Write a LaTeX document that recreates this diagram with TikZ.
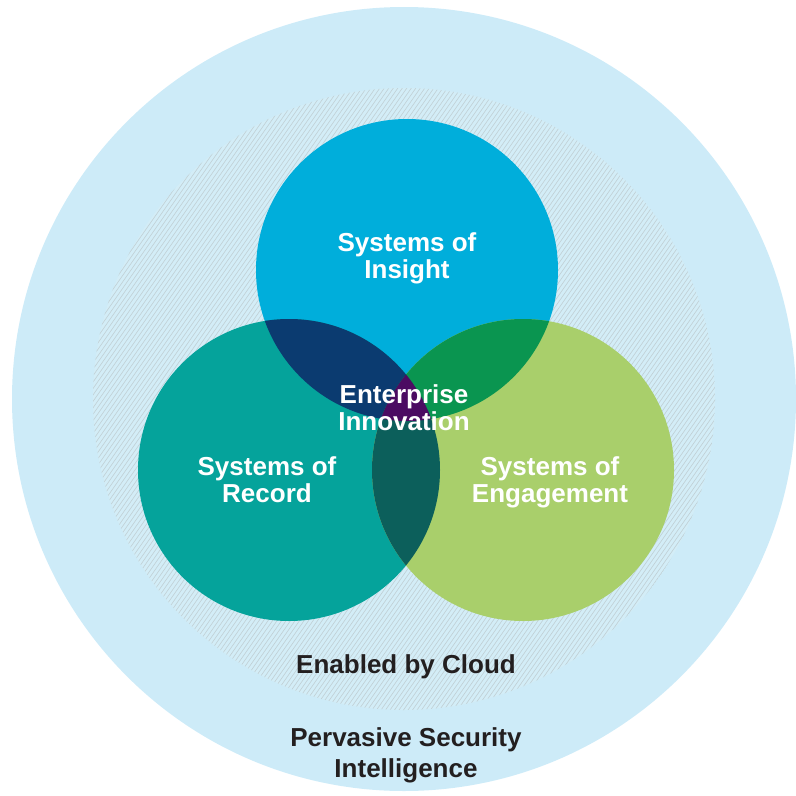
\documentclass[tikz,border=0pt]{standalone}
\usepackage{fontspec}
\setmainfont{Liberation Sans}
\usepackage{tikz}
\usetikzlibrary{calc}
\definecolor{halo}{HTML}{CDEBF8}
\definecolor{cloudbg}{HTML}{D3EDF7}
\definecolor{hatch}{HTML}{C0CFD4}
\definecolor{insight}{HTML}{00AEDB}
\definecolor{record}{HTML}{05A39B}
\definecolor{engage}{HTML}{A9CF6B}
\definecolor{insrec}{HTML}{0B3B70}
\definecolor{inseng}{HTML}{0A9550}
\definecolor{receng}{HTML}{0C5F5B}
\definecolor{allthree}{HTML}{4B0B62}
\definecolor{darktext}{HTML}{231F20}
\tikzstyle{lbl}=[align=center,text=white,inner sep=0pt,font=\fontsize{26bp}{27bp}\selectfont\bfseries]
\tikzstyle{dlbl}=[lbl,text=darktext]

\begin{document}
\begin{tikzpicture}[x=1bp,y=-1bp]
	\useasboundingbox (0,0) rectangle (796,796);
	\coordinate (mid) at (404,399);
	\coordinate (ins) at (407,270);
	\coordinate (rec) at (289,470);
	\coordinate (eng) at (523,470);
	% security halo and cloud ring
	\fill[halo] (mid) circle[radius=392];
	\fill[cloudbg] (mid) circle[radius=311];
	\begin{scope}
		\clip (mid) circle[radius=311];
		\foreach \k in {-420,-415.5,...,660}
			\draw[hatch,line width=0.6bp] (\k,800) -- ++(560,-800);
	\end{scope}
	% the three systems
	\fill[insight] (ins) circle[radius=151];
	\fill[record] (rec) circle[radius=151];
	\fill[engage] (eng) circle[radius=151];
	\begin{scope}
		\clip (ins) circle[radius=151];
		\fill[insrec] (rec) circle[radius=151];
		\fill[inseng] (eng) circle[radius=151];
	\end{scope}
	\begin{scope}
		\clip (rec) circle[radius=151];
		\fill[receng] (eng) circle[radius=151];
	\end{scope}
	\begin{scope}
		\clip (ins) circle[radius=151];
		\clip (rec) circle[radius=151];
		\fill[allthree] (eng) circle[radius=151];
	\end{scope}
	% labels
	\node[lbl] (sysins) at (407,258) {Systems of\\Insight};
	\node[lbl] (sysrec) at (267,480) {Systems of\\Record};
	\node[lbl] (syseng) at (550,482) {Systems of\\Engagement};
	\node[lbl] (entinn) at (404,408) {Enterprise\\Innovation};
	\node[dlbl] (cloud) at (406,667) {Enabled by Cloud};
	\node[dlbl] (secint) at (406,755) {Pervasive Security\\[4bp]Intelligence};
\end{tikzpicture}
\end{document}
